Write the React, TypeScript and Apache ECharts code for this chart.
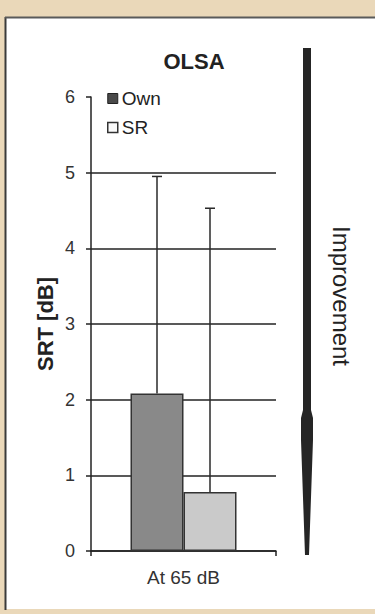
import React, { useEffect, useRef } from "react";
import * as echarts from "echarts";

const categories = ["At 65 dB"];
const seriesNames = ["Own", "SR"];
const ownValues = [2.08];
const srValues = [0.78];
const ownUpper = [4.95];
const srUpper = [4.53];

const FONT = "'Liberation Sans', Arial, sans-serif";
const BAR_W = 53;

function errorSeries(name: string, values: number[], upper: number[], offset: number, z: number) {
  return {
    type: "custom",
    name: name + " err",
    z,
    silent: true,
    data: values.map((v, i) => [i, v, upper[i]]),
    renderItem: (params: any, api: any) => {
      const base = api.coord([api.value(0), api.value(1)]);
      const top = api.coord([api.value(0), api.value(2)]);
      const x = base[0] + offset;
      return {
        type: "group",
        children: [
          { type: "line", shape: { x1: x, y1: base[1], x2: x, y2: top[1] }, style: { stroke: "#2a2a2a", lineWidth: 1.5 } },
          { type: "line", shape: { x1: x - 5, y1: top[1], x2: x + 5, y2: top[1] }, style: { stroke: "#2a2a2a", lineWidth: 1.5 } },
        ],
      };
    },
  };
}

export default function App() {
  const ref = useRef<HTMLDivElement>(null);
  useEffect(() => {
    if (!ref.current) return;
    const chart = echarts.init(ref.current, undefined, { renderer: "svg" });
    chart.setOption({
      animation: false,
      backgroundColor: "#ead8b9",
      title: {
        text: "OLSA",
        left: 189,
        top: 45,
        textAlign: "center",
        textStyle: { fontFamily: FONT, fontSize: 22, fontWeight: "bold", color: "#222" },
      },
      legend: {
        data: [
          { name: seriesNames[0], itemStyle: { color: "#4a4a4a", borderColor: "#222", borderWidth: 1 } },
          { name: seriesNames[1], itemStyle: { color: "#fafafa", borderColor: "#333", borderWidth: 1.5 } },
        ],
        orient: "vertical",
        left: 102,
        top: 84,
        itemWidth: 10,
        itemHeight: 10,
        itemGap: 10,
        icon: "rect",
        textStyle: { fontFamily: FONT, fontSize: 19, color: "#222", padding: [0, 0, 0, -1] },
      },
      grid: { left: 91, right: 99, top: 97, bottom: 63 },
      xAxis: {
        type: "category",
        data: categories,
        axisLine: { lineStyle: { color: "#222", width: 1.5 } },
        axisTick: { show: true, length: 5, lineStyle: { color: "#222", width: 1.5 } },
        axisLabel: { fontFamily: FONT, fontSize: 19, color: "#333", margin: 17 },
      },
      yAxis: {
        type: "value",
        min: 0,
        max: 6,
        interval: 1,
        name: "SRT [dB]",
        nameLocation: "middle",
        nameGap: 35,
        nameTextStyle: { fontFamily: FONT, fontSize: 22, fontWeight: "bold", color: "#222" },
        axisLine: { show: true, lineStyle: { color: "#222", width: 1.5 } },
        axisTick: { show: true, length: 5, lineStyle: { color: "#222", width: 1.5 } },
        axisLabel: { fontFamily: FONT, fontSize: 18, color: "#333", margin: 16 },
        splitLine: { show: true, showMaxLine: false, lineStyle: { color: "#222", width: 1.5 } },
      },
      series: [
        errorSeries("Own", ownValues, ownUpper, -BAR_W / 2, 1),
        errorSeries("SR", srValues, srUpper, BAR_W / 2, 1),
        {
          name: "Own",
          type: "bar",
          z: 3,
          data: ownValues,
          barWidth: BAR_W,
          barGap: "0%",
          itemStyle: { color: "#898989", borderColor: "#333", borderWidth: 1.5 },
        },
        {
          name: "SR",
          type: "bar",
          z: 3,
          data: srValues,
          barWidth: BAR_W,
          barGap: "0%",
          itemStyle: { color: "#cacaca", borderColor: "#333", borderWidth: 1.5 },
        },
      ],
      graphic: [
        { type: "rect", z: -10, shape: { x: 6, y: 18, width: 369, height: 591 }, style: { fill: "#ffffff" } },
        { type: "line", z: -9, shape: { x1: 5.5, y1: 17, x2: 5.5, y2: 610 }, style: { stroke: "#3a3a3a", lineWidth: 2 } },
        { type: "line", z: -9, shape: { x1: 5, y1: 17.5, x2: 375, y2: 17.5 }, style: { stroke: "#5a5a5a", lineWidth: 2 } },
        {
          type: "polygon",
          shape: {
            points: [
              [303, 48], [311, 48], [311, 410], [313, 418], [313, 440], [309, 555],
              [305, 555], [301, 440], [301, 418], [303, 410],
            ],
          },
          style: { fill: "#252525" },
        },
        {
          type: "text",
          x: 341,
          y: 296,
          rotation: -Math.PI / 2,
          style: {
            text: "Improvement",
            fontFamily: FONT,
            fontSize: 24,
            fill: "#222",
            textAlign: "center",
            textVerticalAlign: "middle",
          },
        },
      ],
    });
    return () => chart.dispose();
  }, []);
  return (
    <div
      ref={ref}
      style={{ position: "fixed", left: 0, top: 0, width: 375, height: 614 }}
    />
  );
}
